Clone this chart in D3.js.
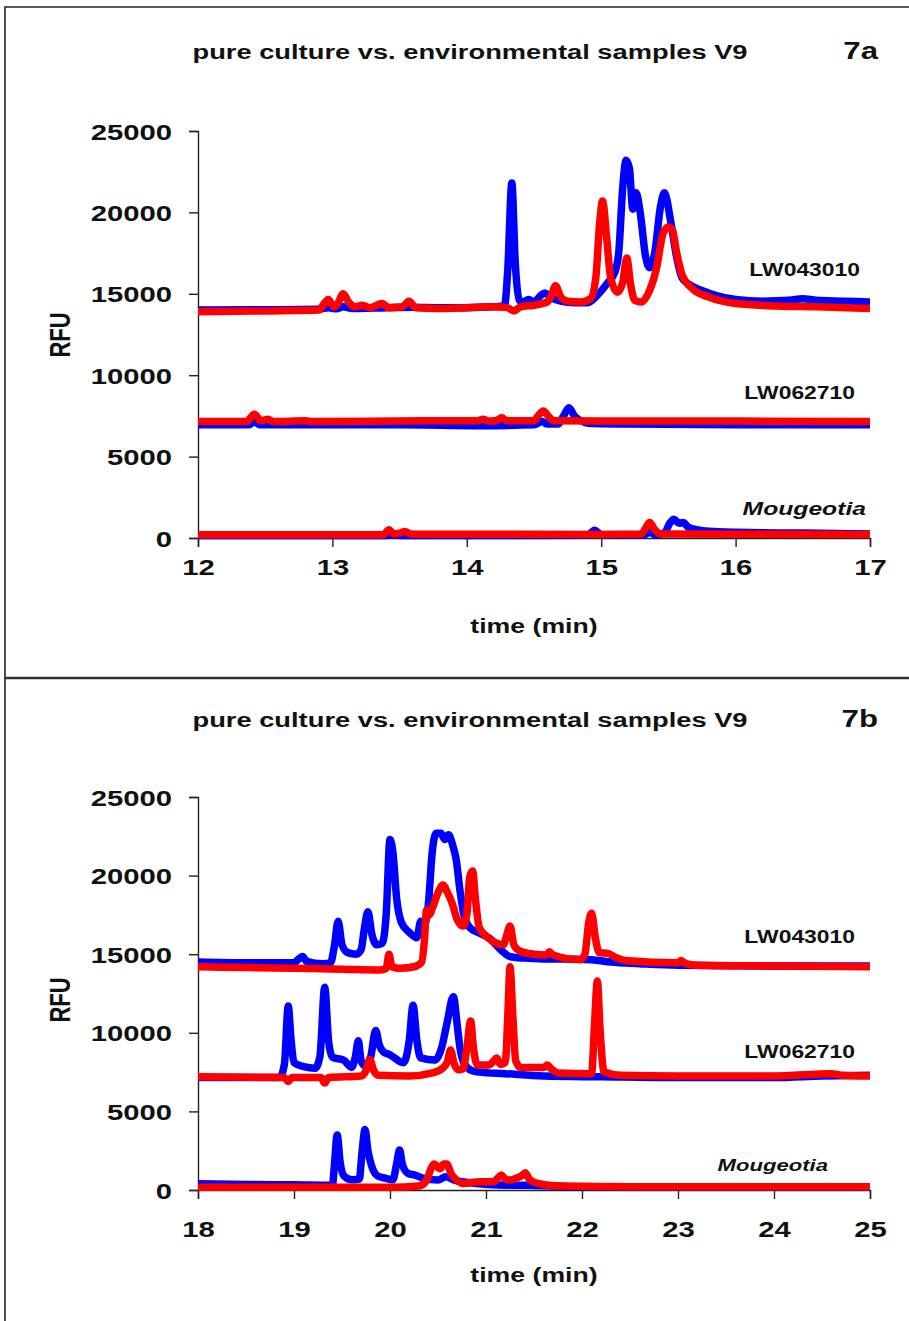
<!DOCTYPE html>
<html>
<head>
<meta charset="utf-8">
<script src="https://cdn.jsdelivr.net/npm/d3@7"></script>
<style>
  body { margin: 0; background: #fff; }
  svg { display: block; }
  text { font-family: "Liberation Sans", Arial, sans-serif; font-weight: bold; fill: #111; }
</style>
</head>
<body>
<svg id="chart" width="909" height="1321"></svg>
<script>
// ---- axis ticks ----
const yTicks = [0, 5000, 10000, 15000, 20000, 25000];
const xTicksA = [12, 13, 14, 15, 16, 17];
const xTicksB = [18, 19, 20, 21, 22, 23, 24, 25];

// ---- sample labels ----
const samples = ["LW043010", "LW062710", "Mougeotia"];

// ---- traces, panel 7a: [time (min), RFU] ----
const a_LW043010_1 = [[12.0,14000],[12.5,14020],[12.9,14050],[12.97,14150],[13.03,14080],[13.08,14200],[13.15,14100],[13.4,14150],[13.6,14180],[13.8,14150],[14.0,14150],[14.2,14200],[14.28,14250],[14.305,16500],[14.335,21800],[14.36,17000],[14.39,14600],[14.42,14500],[14.46,14650],[14.5,14500],[14.55,14900],[14.58,15050],[14.62,14800],[14.7,14550],[14.8,14450],[14.9,14450],[14.97,14900],[15.05,15700],[15.1,16300],[15.13,17500],[15.16,21500],[15.185,23200],[15.21,22700],[15.235,20200],[15.26,21200],[15.29,20000],[15.33,17300],[15.36,16600],[15.40,17600],[15.44,20300],[15.47,21200],[15.52,19300],[15.56,17300],[15.6,16000],[15.65,15600],[15.75,15200],[15.85,14900],[16.0,14650],[16.2,14550],[16.4,14600],[16.5,14700],[16.6,14600],[16.8,14550],[17.0,14500]];
const a_LW043010_2 = [[12.0,13900],[12.5,13950],[12.9,14000],[12.93,14300],[12.97,14650],[13.01,14200],[13.04,14400],[13.08,15000],[13.12,14500],[13.17,14200],[13.22,14300],[13.28,14150],[13.37,14400],[13.42,14150],[13.52,14200],[13.57,14550],[13.62,14150],[13.8,14100],[14.0,14150],[14.2,14200],[14.3,14150],[14.35,13950],[14.4,14200],[14.5,14300],[14.6,14500],[14.63,14900],[14.66,15500],[14.7,14800],[14.75,14550],[14.85,14500],[14.92,14700],[14.96,16000],[14.99,19500],[15.01,20700],[15.04,18500],[15.07,16000],[15.12,15100],[15.16,15700],[15.19,17200],[15.22,15500],[15.25,14600],[15.3,14500],[15.36,15200],[15.41,16500],[15.46,18700],[15.5,19100],[15.53,18900],[15.56,17600],[15.6,16200],[15.68,15300],[15.8,14800],[16.0,14400],[16.3,14250],[16.6,14200],[17.0,14100]];
const a_LW062710_1 = [[12.0,6950],[12.38,6950],[12.42,7150],[12.46,6950],[13.0,6950],[13.5,6950],[14.1,6900],[14.5,6950],[14.56,7150],[14.6,7000],[14.68,7000],[14.72,7500],[14.76,8000],[14.8,7500],[14.85,7200],[14.9,7050],[15.2,7000],[16.0,6950],[17.0,6950]];
const a_LW062710_2 = [[12.0,7150],[12.36,7150],[12.42,7600],[12.47,7200],[12.52,7300],[12.56,7150],[12.8,7200],[12.85,7150],[13.7,7200],[14.08,7200],[14.12,7300],[14.16,7180],[14.22,7220],[14.26,7380],[14.3,7200],[14.5,7200],[14.53,7500],[14.57,7800],[14.61,7450],[14.65,7200],[15.0,7180],[16.0,7180],[17.0,7150]];
const a_Mougeotia_1 = [[12.0,150],[13.4,150],[13.45,250],[13.5,150],[14.9,170],[14.95,480],[15.0,200],[15.32,200],[15.36,350],[15.4,200],[15.47,300],[15.51,900],[15.54,1150],[15.58,900],[15.61,950],[15.65,650],[15.72,500],[15.8,420],[16.0,350],[16.5,300],[17.0,250]];
const a_Mougeotia_2 = [[12.0,200],[13.38,200],[13.42,500],[13.46,250],[13.5,300],[13.54,400],[13.58,250],[13.7,230],[15.0,220],[15.3,250],[15.33,600],[15.36,950],[15.4,500],[15.44,250],[16.0,230],[17.0,220]];

// ---- traces, panel 7b: [time (min), RFU] ----
const b_LW043010_1 = [[18.0,14500],[18.5,14450],[19.0,14450],[19.05,14700],[19.09,14850],[19.13,14550],[19.3,14400],[19.38,14450],[19.42,15500],[19.46,17100],[19.5,15600],[19.56,15100],[19.65,15000],[19.7,15300],[19.73,16500],[19.77,17700],[19.81,16300],[19.86,15600],[19.92,15700],[19.96,17500],[20.0,22300],[20.03,21500],[20.07,18500],[20.12,17000],[20.2,16400],[20.28,16050],[20.32,17100],[20.36,16900],[20.4,18200],[20.44,21500],[20.48,22700],[20.53,22700],[20.57,22300],[20.61,22600],[20.65,22000],[20.69,21000],[20.73,19000],[20.77,17500],[20.83,16700],[20.93,16350],[21.04,16000],[21.15,15300],[21.25,14850],[21.4,14750],[21.6,14700],[21.8,14700],[22.1,14650],[22.3,14500],[22.6,14400],[23.0,14300],[24.0,14250],[25.0,14250]];
const b_LW043010_2 = [[18.0,14200],[18.5,14150],[19.0,14100],[19.5,14050],[19.9,14000],[19.96,14100],[19.99,15000],[20.02,14200],[20.1,14100],[20.25,14200],[20.33,14500],[20.36,16000],[20.38,17800],[20.41,17500],[20.44,17900],[20.5,18900],[20.55,19400],[20.6,18900],[20.65,18200],[20.7,17200],[20.76,16800],[20.8,17500],[20.83,19900],[20.86,20300],[20.89,18500],[20.93,16700],[21.01,16100],[21.11,15700],[21.18,15600],[21.22,16300],[21.25,16800],[21.29,15600],[21.35,15200],[21.5,15000],[21.63,14950],[21.66,15150],[21.7,14950],[21.98,14650],[22.03,15000],[22.07,17000],[22.1,17600],[22.14,16000],[22.18,15100],[22.27,15050],[22.35,14800],[22.45,14600],[23.0,14450],[23.03,14600],[23.08,14400],[23.2,14300],[24.0,14250],[25.0,14200]];
const b_LW062710_1 = [[18.0,7150],[18.85,7150],[18.9,8000],[18.94,11700],[18.97,9500],[19.0,8100],[19.1,7850],[19.22,7750],[19.27,8500],[19.32,12900],[19.36,9500],[19.4,8450],[19.52,8250],[19.6,7800],[19.64,8500],[19.67,9500],[19.7,8200],[19.74,7900],[19.8,8500],[19.85,10150],[19.89,9200],[19.93,8800],[20.0,8600],[20.14,8100],[20.2,9500],[20.24,11750],[20.28,9500],[20.32,8400],[20.47,8270],[20.54,9100],[20.59,10500],[20.66,12300],[20.7,10500],[20.73,9000],[20.77,8080],[20.85,7600],[20.93,7500],[21.2,7400],[21.6,7250],[22.2,7200],[23.0,7150],[24.0,7150],[24.5,7250],[25.0,7300]];
const b_LW062710_2 = [[18.0,7200],[18.9,7150],[18.94,6900],[18.98,7150],[19.28,7150],[19.32,6800],[19.36,7150],[19.7,7250],[19.75,7600],[19.79,8300],[19.83,7600],[19.88,7300],[20.2,7250],[20.44,7450],[20.55,7750],[20.6,8200],[20.63,8900],[20.67,8000],[20.71,7650],[20.76,7700],[20.8,9000],[20.84,10750],[20.87,9000],[20.91,7950],[21.03,7950],[21.08,8200],[21.11,8400],[21.15,8000],[21.2,8100],[21.23,11500],[21.25,14200],[21.28,11000],[21.31,8200],[21.36,7800],[21.6,7800],[21.64,7950],[21.68,7700],[21.75,7450],[22.1,7400],[22.13,10500],[22.16,13300],[22.19,10000],[22.23,7500],[22.4,7300],[23.0,7250],[24.0,7250],[24.6,7400],[24.7,7300],[25.0,7250]];
const b_Mougeotia_1 = [[18.0,400],[18.5,350],[19.0,330],[19.4,300],[19.42,1500],[19.45,3500],[19.48,1800],[19.52,900],[19.6,650],[19.68,700],[19.71,2500],[19.74,3850],[19.77,2500],[19.81,1500],[19.87,900],[19.95,750],[20.03,650],[20.07,1700],[20.1,2550],[20.13,1600],[20.19,1050],[20.26,950],[20.35,740],[20.5,630],[20.58,840],[20.67,630],[20.9,420],[21.13,320],[21.4,300],[21.7,250],[22.0,200],[25.0,200]];
const b_Mougeotia_2 = [[18.0,170],[19.0,170],[20.0,170],[20.3,250],[20.38,600],[20.43,1400],[20.46,1650],[20.52,1350],[20.56,1650],[20.59,1650],[20.64,1000],[20.7,600],[20.76,420],[20.94,530],[21.08,530],[21.13,800],[21.16,950],[21.2,700],[21.24,630],[21.31,740],[21.37,900],[21.41,1100],[21.45,700],[21.5,500],[21.63,320],[21.8,250],[22.5,200],[25.0,200]];

// ---- layout ----
const TEXT_SX = 1.3;               // horizontal stretch of all lettering
const traceColors = ["#0000ff", "#ff0000"];
const panels = [
  {
    title: "pure culture vs. environmental samples  V9", tag: "7a",
    titleY: 59, xDomain: [12, 17], xTicks: xTicksA,
    plotTop: 131, plotBottom: 538, tickLabelDy: 37, axisTitleY: 633, rfuY: 335,
    traces: [[a_LW043010_1, a_LW043010_2], [a_LW062710_1, a_LW062710_2], [a_Mougeotia_1, a_Mougeotia_2]],
    labelAt: [[860, 276, 17.6], [855, 399, 17.6], [866, 515, 19]]
  },
  {
    title: "pure culture vs. environmental samples  V9", tag: "7b",
    titleY: 727, xDomain: [18, 25], xTicks: xTicksB,
    plotTop: 797, plotBottom: 1190, tickLabelDy: 47, axisTitleY: 1282, rfuY: 1000,
    traces: [[b_LW043010_1, b_LW043010_2], [b_LW062710_1, b_LW062710_2], [b_Mougeotia_1, b_Mougeotia_2]],
    labelAt: [[855, 943, 17.6], [855, 1058, 17.6], [828, 1171, 17]]
  }
];
const plotLeft = 198, plotRight = 870;

const svg = d3.select("#chart");

// outer frame and separator
svg.append("path")
  .attr("d", "M5,1321 V7 H909")
  .attr("fill", "none").attr("stroke", "#222").attr("stroke-width", 1.6);
svg.append("line")
  .attr("x1", 5).attr("x2", 909).attr("y1", 678).attr("y2", 678)
  .attr("stroke", "#333").attr("stroke-width", 2.6);

function stretchedText(g, x, y, str, size, anchor, italic) {
  return g.append("text")
    .attr("transform", `translate(${x},${y}) scale(${TEXT_SX},1)`)
    .attr("text-anchor", anchor)
    .style("font-size", size + "px")
    .style("font-style", italic ? "italic" : "normal")
    .text(str);
}

panels.forEach(p => {
  const g = svg.append("g");
  const x = d3.scaleLinear().domain(p.xDomain).range([plotLeft, plotRight]);
  const y = d3.scaleLinear().domain([0, 25000]).range([p.plotBottom, p.plotTop]);

  // axes
  const yAxis = g.append("g").attr("transform", `translate(${plotLeft},0)`)
    .call(d3.axisLeft(y).tickValues(yTicks).tickFormat(d3.format("d")).tickSizeOuter(0).tickSize(9));
  yAxis.selectAll("text")
    .attr("x", null).attr("dy", null)
    .attr("transform", `translate(-26,8) scale(${TEXT_SX},1)`)
    .style("font-size", "22.5px");

  const xAxis = g.append("g").attr("transform", `translate(0,${p.plotBottom})`)
    .call(d3.axisBottom(x).tickValues(p.xTicks).tickFormat(d3.format("d")).tickSizeOuter(0).tickSize(9));
  xAxis.selectAll("text")
    .attr("y", null).attr("dy", null)
    .attr("transform", `translate(0,${p.tickLabelDy}) scale(${TEXT_SX},1)`)
    .style("font-size", "22.5px");

  [yAxis, xAxis].forEach(ax => {
    ax.select(".domain").attr("stroke", "#222").attr("stroke-width", 1.4);
    ax.selectAll(".tick line").attr("stroke", "#222").attr("stroke-width", 1.4);
  });

  // traces: first trace of each pair underneath, second on top
  const line = d3.line().x(d => x(d[0])).y(d => y(d[1])).curve(d3.curveMonotoneX);
  [0, 1].forEach(k => {
    p.traces.forEach(pair => {
      g.append("path")
        .datum(pair[k])
        .attr("d", line)
        .attr("fill", "none")
        .attr("stroke", traceColors[k])
        .attr("stroke-width", 7.5)
        .attr("stroke-linejoin", "round")
        .attr("stroke-linecap", "butt");
    });
  });

  // sample names
  samples.forEach((name, i) => {
    const [lx, ly, fs] = p.labelAt[i];
    stretchedText(g, lx, ly, name, fs, "end", name === "Mougeotia");
  });

  // titles
  stretchedText(g, 470, p.titleY, p.title, 21, "middle", false);
  stretchedText(g, 878, p.titleY, p.tag, 24, "end", false);
  stretchedText(g, (plotLeft + plotRight) / 2, p.axisTitleY, "time (min)", 20.5, "middle", false);
  g.append("text")
    .attr("transform", `translate(70,${p.rfuY}) scale(${TEXT_SX},1) rotate(-90)`)
    .attr("text-anchor", "middle")
    .style("font-size", "22px")
    .text("RFU");
});
</script>
</body>
</html>
